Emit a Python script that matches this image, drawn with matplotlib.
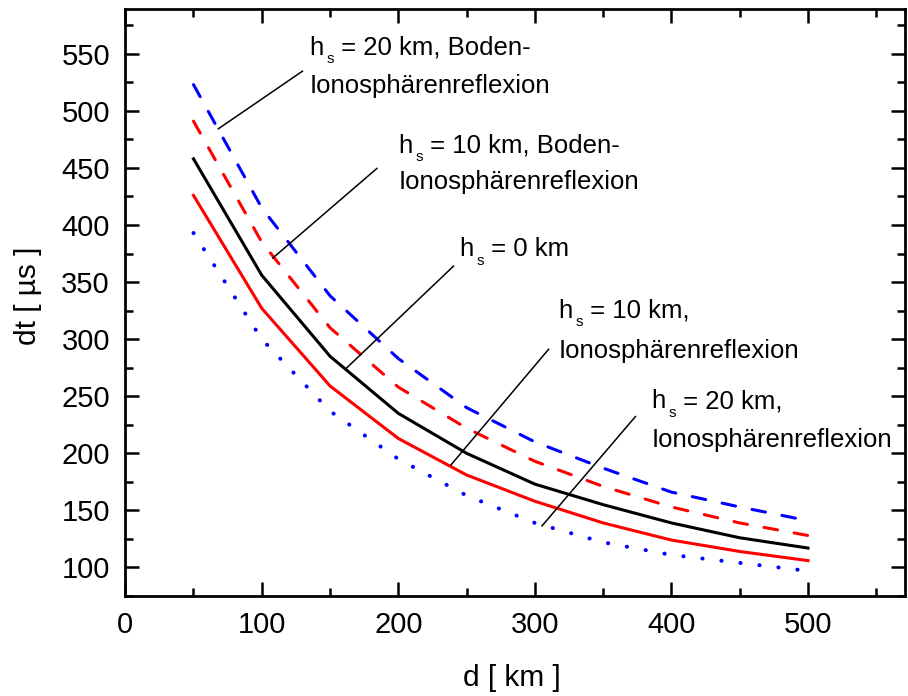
import matplotlib
matplotlib.use("Agg")
import matplotlib.pyplot as plt
from matplotlib.ticker import MultipleLocator
from matplotlib.transforms import offset_copy

plt.rcParams['font.family'] = ['Liberation Sans', 'DejaVu Sans']

# Data
d_km = [50, 100, 150, 200, 250, 300, 350, 400, 450, 500]
dt_h20_boden = [523, 415, 338, 283, 240, 210, 187, 166, 153, 141]
dt_h10_boden = [491, 385, 310, 258, 222, 193, 171, 153, 139, 128]
dt_h0 = [458, 356, 285, 235, 200, 173, 155, 139, 126, 117]
dt_h10_iono = [426, 327, 259, 213, 181, 158, 139, 124, 114, 106]
dt_h20_iono = [393, 300, 237, 195, 163, 139, 122, 111, 104, 97]

xlabel = 'd [ km ]'
ylabel = 'dt [ µs ]'

fig = plt.figure(figsize=(9.08, 6.96), dpi=100)
ax = fig.add_axes([125.2/908, 1-596/696, (905-125.2)/908, (596-9.3)/696])

lw = 2.2
ax.plot(d_km, dt_h20_boden, color='#0000ff', lw=lw, dashes=(4.5, 5.5), dash_capstyle='round')
ax.plot(d_km, dt_h10_boden, color='#ff0000', lw=lw, dashes=(4.5, 5.5), dash_capstyle='round')
ax.plot(d_km, dt_h0, color='black', lw=lw, solid_joinstyle='round')
ax.plot(d_km, dt_h10_iono, color='#ff0000', lw=lw, solid_joinstyle='round')
ax.plot(d_km, dt_h20_iono, color='#0000ff', lw=2.9, dashes=(0.05, 4.7), dash_capstyle='round')

ax.set_xlim(0, 571)
ax.set_ylim(75, 589)
ax.xaxis.set_major_locator(MultipleLocator(100))
ax.xaxis.set_minor_locator(MultipleLocator(50))
ax.yaxis.set_major_locator(MultipleLocator(50))
ax.yaxis.set_minor_locator(MultipleLocator(25))
ax.set_yticks(range(100, 551, 50))

ax.tick_params(which='both', direction='in', top=True, right=True, width=1.8, labelsize=21)
ax.tick_params(which='major', length=10, pad=11)
ax.tick_params(which='minor', length=6)
for s in ax.spines.values():
    s.set_linewidth(2.0)

ax.set_xlabel(xlabel, fontsize=21.5, va='center')
ax.set_ylabel(ylabel, fontsize=21.5, va='center')
ax.xaxis.set_label_coords(0.496, (596-678)/586.7)
ax.yaxis.set_label_coords((28-125.2)/779.8, 0.511)

# Annotations
fs = 18.5
sub_fs = 11
texts = [
    (134.9, 549.4, ' = 20 km, Boden-', 516.1, 'Ionosphärenreflexion'),
    (200.1, 463.3, ' = 10 km, Boden-', 431.2, 'Ionosphärenreflexion'),
    (244.8, 372.8, ' = 0 km', None, None),
    (317.4, 318.9, ' = 10 km,', 283.9, 'Ionosphärenreflexion'),
    (385.3, 239.5, ' = 20 km,', 205.3, 'Ionosphärenreflexion'),
]
fig.canvas.draw()
renderer = fig.canvas.get_renderer()
for x, y1, rest, y2, line2 in texts:
    th = ax.text(x, y1, 'h', fontsize=fs, va='baseline', ha='left')
    wh = th.get_window_extent(renderer).width  # pixels
    tr_s = offset_copy(ax.transData, fig=fig, x=wh + 2.5, y=-8.5, units='dots')
    ts = ax.text(x, y1, 's', fontsize=sub_fs, va='baseline', ha='left', transform=tr_s)
    ws = ts.get_window_extent(renderer).width
    tr_r = offset_copy(ax.transData, fig=fig, x=wh + 2.5 + ws + 0.5, y=0, units='dots')
    ax.text(x, y1, rest, fontsize=fs, va='baseline', ha='left', transform=tr_r)
    if line2 is not None:
        ax.text(x, y2, line2, fontsize=fs, va='baseline', ha='left')

leaders = [
    ((68.2, 129.8), (484.3, 534.8)),
    ((108.1, 184.3), (371.1, 449.6)),
    ((161.1, 240.4), (273.6, 364.0)),
    ((238.5, 310.0), (189.8, 291.1)),
    ((305.2, 373.6), (136.4, 232.2)),
]
for xs, ys in leaders:
    ax.plot(xs, ys, color='black', lw=1.1)

fig.savefig('out.png', dpi=100)
